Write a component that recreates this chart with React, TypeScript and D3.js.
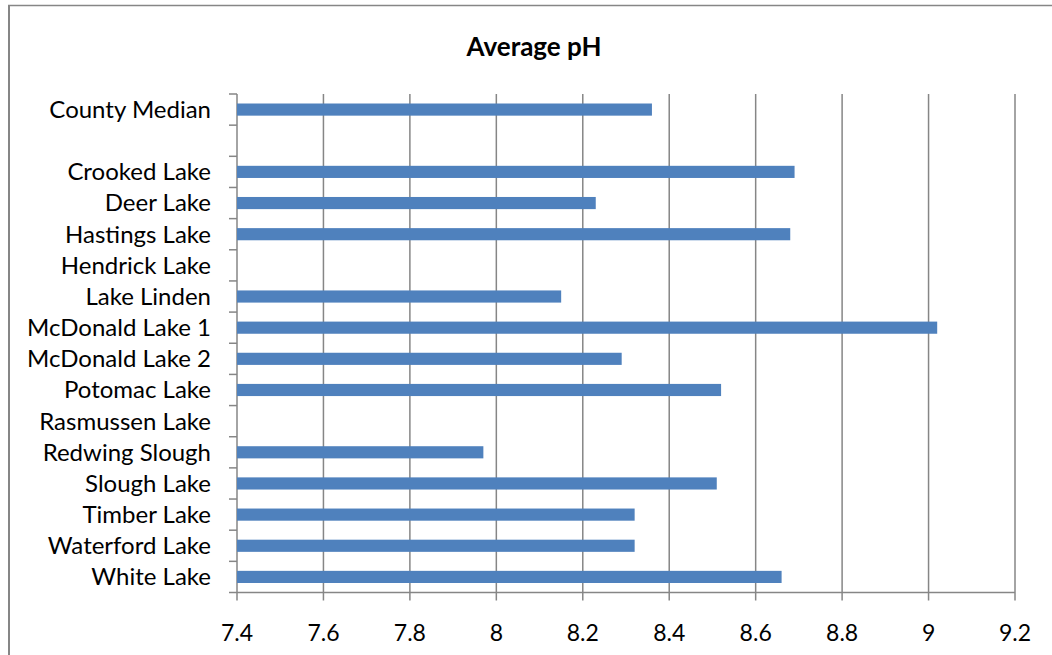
import React from "react";
import * as d3 from "d3";

const categories = ["County Median", "", "Crooked Lake", "Deer Lake", "Hastings Lake", "Hendrick Lake", "Lake Linden", "McDonald Lake 1", "McDonald Lake 2", "Potomac Lake", "Rasmussen Lake", "Redwing Slough", "Slough Lake", "Timber Lake", "Waterford Lake", "White Lake"];
const values: (number | null)[] = [8.36, null, 8.69, 8.23, 8.68, null, 8.15, 9.02, 8.29, 8.52, null, 7.97, 8.51, 8.32, 8.32, 8.66];
const xTicks = [7.4, 7.6, 7.8, 8, 8.2, 8.4, 8.6, 8.8, 9, 9.2];
const title = "Average pH";

export default function App() {
  const W = 1052, H = 655;
  const left = 237, right = 1015, top = 94, bottom = 592.5;
  const x = d3.scaleLinear().domain([7.4, 9.2]).range([left, right]);
  const keys = categories.map((c, i) => String(i));
  const y = d3.scaleBand().domain(keys).range([top, bottom]).paddingInner(0.61).paddingOuter(0.305);
  const yb = d3.scaleBand().domain(keys).range([top, bottom]);
  const font = "Lato, sans-serif";
  const grid = "#868686";
  return (
    <svg width={W} height={H} style={{ position: "absolute", left: 0, top: 0 }}>
      <line x1={8} x2={W} y1={5.5} y2={5.5} stroke="#868686" strokeWidth={1.5} />
      <line x1={9} x2={9} y1={5} y2={H} stroke="#868686" strokeWidth={2} />
      <text x={534} y={56} textAnchor="middle" fontFamily={font} fontWeight="bold" fontSize={26}>{title}</text>
      {xTicks.map((t) => (
        <line key={t} x1={x(t)} x2={x(t)} y1={top} y2={bottom + 8} stroke={grid} strokeWidth={1.5} />
      ))}
      <line x1={left} x2={right} y1={bottom} y2={bottom} stroke={grid} strokeWidth={1.5} />
      {keys.map((k) => (
        <line key={"t" + k} x1={left - 8} x2={left} y1={yb(k)!} y2={yb(k)!} stroke={grid} strokeWidth={1.5} />
      ))}
      <line x1={left - 8} x2={left} y1={bottom} y2={bottom} stroke={grid} strokeWidth={1.5} />
      {values.map((v, i) =>
        v == null ? null : (
          <rect key={"b" + i} x={x(7.4)} y={y(String(i))!} width={x(v) - x(7.4)} height={y.bandwidth()} fill="#4F81BD" />
        )
      )}
      {categories.map((c, i) => (
        <text key={"l" + i} x={211} y={yb(String(i))! + yb.bandwidth() / 2} dy="0.35em" textAnchor="end" fontFamily={font} fontSize={24}>{c}</text>
      ))}
      {xTicks.map((t) => (
        <text key={"x" + t} x={x(t)} y={633} dy="0.35em" textAnchor="middle" fontFamily={font} fontSize={23}>{String(t)}</text>
      ))}
    </svg>
  );
}
